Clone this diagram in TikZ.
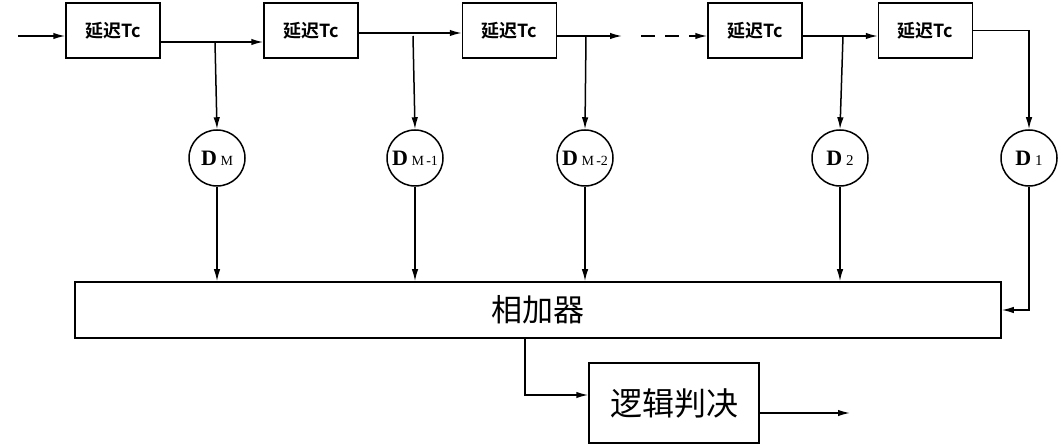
\documentclass[tikz,border=0pt]{standalone}
\usepackage{fontspec}
\newfontfamily\cjk{Noto Sans CJK SC}
\newfontfamily\cjkb{Noto Sans CJK SC Bold}
\setmainfont{Liberation Serif}
\usetikzlibrary{arrows.meta}
\begin{document}
\begin{tikzpicture}[x=1pt,y=-1pt,
  line width=1.5pt,
  arr/.style={-{Latex[length=12pt,width=6.5pt]}},
  delaybox/.style={draw,minimum width=94pt,minimum height=55pt,inner sep=0pt,font=\cjkb\fontsize{18}{18}\selectfont},
  dcirc/.style={draw,circle,minimum size=56pt,inner sep=0pt,font=\fontsize{22}{22}\selectfont\bfseries},
  sub/.style={}]
\useasboundingbox (0,0) rectangle (1060,446);
\node[delaybox] (b1) at (113,30.5) {延迟Tc};
\node[delaybox] (b2) at (311,30.5) {延迟Tc};
\node[delaybox] (b3) at (509.5,30.5) {延迟Tc};
\node[delaybox] (b4) at (755,30.5) {延迟Tc};
\node[delaybox] (b5) at (925.5,30.5) {延迟Tc};
\node[dcirc] (dm) at (217,158) {D\,{\normalfont\fontsize{14}{14}\selectfont M}};
\node[dcirc] (dm1) at (415,158) {D\,{\normalfont\fontsize{14}{14}\selectfont M\,-1}};
\node[dcirc] (dm2) at (585,158) {D\,{\normalfont\fontsize{14}{14}\selectfont M\,-2}};
\node[dcirc] (d2) at (840,158) {D\,{\normalfont\fontsize{15}{15}\selectfont 2}};
\node[dcirc] (d1) at (1029,158) {D\,{\normalfont\fontsize{15}{15}\selectfont 1}};
\node[draw,minimum width=926pt,minimum height=56pt,inner sep=0pt,font=\cjk\fontsize{31}{31}\selectfont] (add) at (538,310) {相加器};
\node[draw,minimum width=170pt,minimum height=80pt,inner sep=0pt,font=\cjk\fontsize{32}{32}\selectfont] (logic) at (674,403) {逻辑判决};
\coordinate (in) at (18,36);
\coordinate (t1) at (215,42);
\coordinate (t2) at (413,36);
\coordinate (t3) at (586,36);
\coordinate (o3) at (622,36);
\coordinate (ds) at (641,36);
\coordinate (t4) at (843,36);
\coordinate (out) at (850,413);
% top chain
\draw[arr] (in) -- (in -| b1.west);
\draw[arr] (b1.east |- t1) -- (b2.west |- t1);
\draw[arr] (b2.east |- 0,33) -- (b3.west |- 0,33);
\draw[arr] (b3.east |- t3) -- (o3);
\draw[arr,dash pattern=on 14pt off 10pt] (ds) -- (b4.west |- ds);
\draw[arr] (b4.east |- t4) -- (b5.west |- t4);
% taps
\draw[arr] (t1) -- (dm.north);
\draw[arr] (t2) -- (dm1.north);
\draw[arr] (t3) -- (dm2.north);
\draw[arr] (t4) -- (d2.north);
\draw[arr] (b5.east) -| (d1.north);
% to adder
\draw[arr] (dm.south) -- (dm.south |- add.north);
\draw[arr] (dm1.south) -- (dm1.south |- add.north);
\draw[arr] (dm2.south) -- (dm2.south |- add.north);
\draw[arr] (d2.south) -- (d2.south |- add.north);
\draw[arr] (d1.south) |- (add.east);
% output
\draw[arr] (add.south -| 525,0) |- (logic.west |- 0,395);
\draw[arr] (logic.east |- out) -- (out);
\end{tikzpicture}
\end{document}
